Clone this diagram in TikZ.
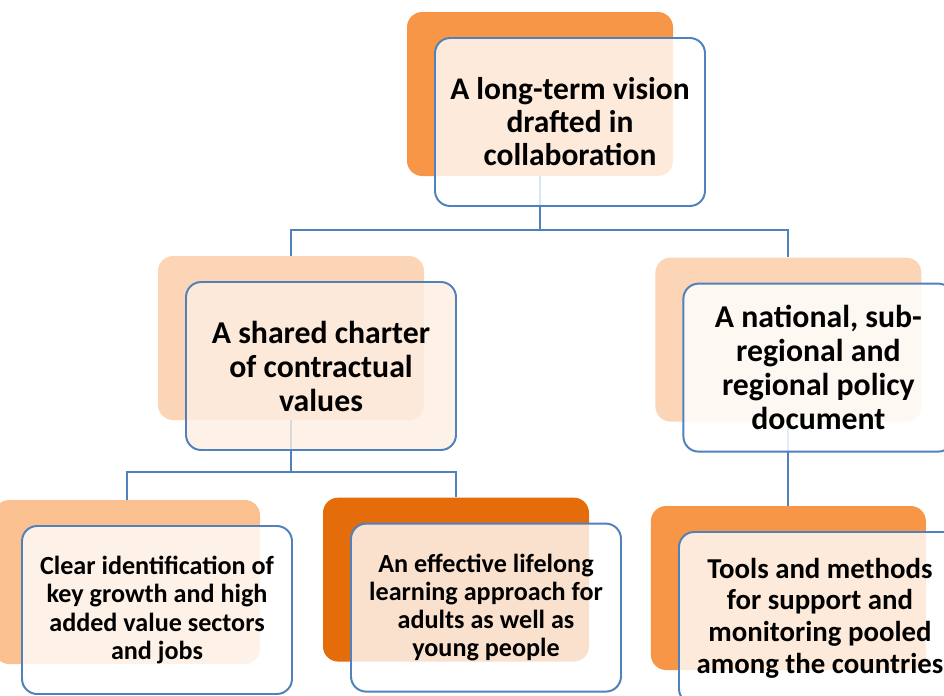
\documentclass[tikz,border=0pt]{standalone}
\usepackage{fontspec}
\setmainfont{Carlito}
\usepackage{tikz}
\usetikzlibrary{shapes,arrows,positioning}
\usepackage{xcolor}
\definecolor{frameblue}{HTML}{4F81BD}
\definecolor{orangefull}{HTML}{F79646}
\definecolor{orangelight}{HTML}{FBD5B5}
\definecolor{orangemid}{HTML}{FAC090}
\definecolor{orangedark}{HTML}{E46C0A}
\definecolor{peachfill}{HTML}{FDEEE2}
\tikzstyle{back}=[rounded corners=0.38cm, minimum width=6.65cm, minimum height=4.1cm, inner sep=0pt]
\tikzstyle{front}=[draw=frameblue, line width=1.4pt, fill=white, fill opacity=0.8, text opacity=1, rounded corners=0.38cm, minimum width=6.75cm, minimum height=4.2cm, inner sep=0pt, align=center, font=\bfseries]
\tikzstyle{big text}=[font=\fontsize{22.4}{23.5}\selectfont\bfseries]
\tikzstyle{mid text}=[font=\fontsize{22.6}{24.2}\selectfont\bfseries]
\tikzstyle{small text}=[font=\fontsize{18.6}{20.1}\selectfont\bfseries]
\tikzstyle{link}=[draw=frameblue, line width=1.4pt]

\begin{document}
\begin{tikzpicture}
        \clip (0,0) rectangle (23.6,-17.4);

        % Sfondi arancioni
        \node[back, fill=orangefull] (vision_back) at (13.5,-2.35) {};
        \node[back, fill=orangelight] (charter_back) at (7.275,-8.45) {};
        \node[back, fill=orangelight] (policy_back) at (19.71,-8.49) {};
        \node[back, fill=orangemid] (sectors_back) at (3.175,-14.55) {};
        \node[back, fill=orangedark] (lifelong_back) at (11.4,-14.49) {};
        \node[back, fill=orangefull, minimum width=6.875cm] (tools_back) at (19.71,-14.7) {};

        % Collegamenti
        \draw[link] (vision_back.south) -- ++(0,-1.35) -| (charter_back.north);
        \draw[link] (vision_back.south) -- ++(0,-1.35) -| (policy_back.north);
        \draw[link] (charter_back.south) -- ++(0,-1.3) -| (sectors_back.north);
        \draw[link] (charter_back.south) -- ++(0,-1.3) -| (lifelong_back.north);
        \draw[link] (policy_back.south) -- (tools_back.north);

        % Riquadri
        \node[front, big text] (vision) at (14.25,-3.05) {A long-term vision\\drafted in\\collaboration};
        \node[front, mid text, fill=peachfill] (charter) at (8.025,-9.15) {A shared charter\\of contractual\\values};
        \node[front, mid text, fill opacity=0.85] (policy) at (20.46,-9.19) {A national, sub-\\regional and\\regional policy\\document};
        \node[front, small text] (sectors) at (3.925,-15.25) {Clear identification of\\key growth and high\\added value sectors\\and jobs};
        \node[front, small text] (lifelong) at (12.15,-15.19) {An effective lifelong\\learning approach for\\adults as well as\\young people};
        \node[front, font=\fontsize{20.5}{22.5}\selectfont\bfseries, minimum width=7.05cm, minimum height=4.3cm] (tools) at (20.5,-15.45) {Tools and methods\\for support and\\monitoring pooled\\among the countries};
    \end{tikzpicture}
\end{document}
